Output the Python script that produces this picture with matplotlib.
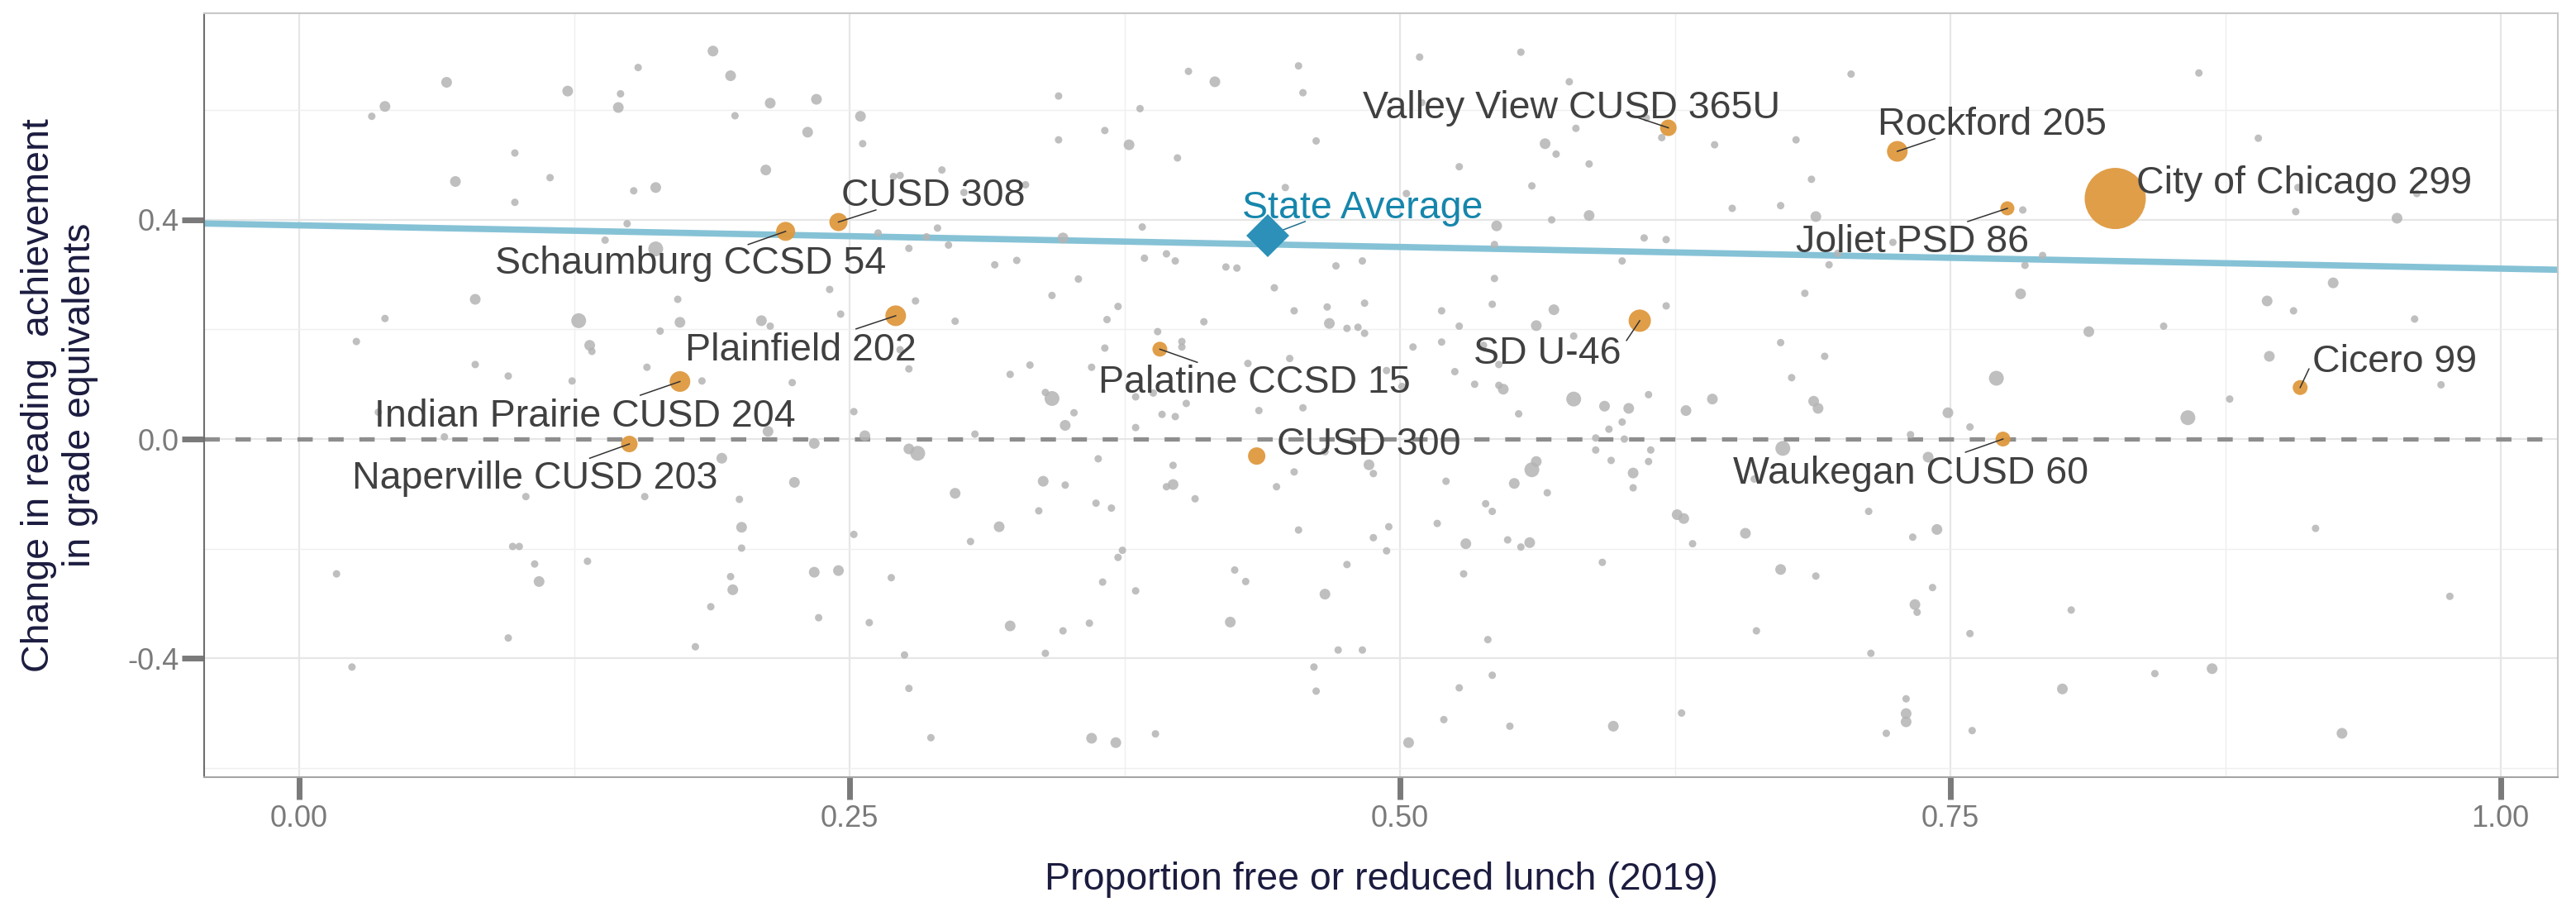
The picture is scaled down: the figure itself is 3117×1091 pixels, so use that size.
import matplotlib
matplotlib.use("Agg")
import matplotlib.pyplot as plt
from matplotlib.ticker import FixedLocator

plt.rcParams["font.family"] = ["Liberation Sans", "DejaVu Sans"]

# ── Data ─────────────────────────────────────────────────────────────────────

# all other districts: proportion FRL, change in GE, size class (1 small .. 3 large)
grey_x = [
    0.067, 0.039, 0.033, 0.122, 0.098, 0.071, 0.114, 0.098, 0.080, 0.039, 0.127, 0.026, 0.132, 0.133,
    0.080, 0.095, 0.124, 0.036, 0.066, 0.103, 0.097, 0.100, 0.017, 0.107, 0.109, 0.131, 0.095, 0.024,
    0.188, 0.154, 0.196, 0.146, 0.145, 0.198, 0.214, 0.235, 0.231, 0.255, 0.256, 0.212, 0.152, 0.162,
    0.270, 0.273, 0.292, 0.302, 0.149, 0.139, 0.162, 0.263, 0.277, 0.290, 0.285, 0.295, 0.241, 0.172,
    0.280, 0.173, 0.164, 0.210, 0.214, 0.246, 0.298, 0.158, 0.183, 0.224, 0.273, 0.277, 0.252, 0.213,
    0.234, 0.257, 0.277, 0.281, 0.307, 0.192, 0.225, 0.157, 0.200, 0.298, 0.201, 0.201, 0.252, 0.305,
    0.196, 0.197, 0.234, 0.245, 0.269, 0.187, 0.236, 0.259, 0.180, 0.275, 0.277, 0.287,
    0.404, 0.416, 0.454, 0.456, 0.345, 0.382, 0.366, 0.345, 0.377, 0.399, 0.462, 0.448, 0.330, 0.383,
    0.347, 0.316, 0.326, 0.384, 0.394, 0.398, 0.421, 0.426, 0.443, 0.471, 0.483, 0.354, 0.342, 0.372,
    0.367, 0.411, 0.452, 0.467, 0.484, 0.468, 0.476, 0.481, 0.484, 0.390, 0.366, 0.332, 0.323, 0.401,
    0.401, 0.431, 0.450, 0.360, 0.342, 0.339, 0.352, 0.348, 0.380, 0.388, 0.392, 0.398, 0.403, 0.436,
    0.456, 0.380, 0.363, 0.338, 0.348, 0.397, 0.397, 0.394, 0.452, 0.444, 0.486, 0.488, 0.466, 0.362,
    0.369, 0.336, 0.318, 0.407, 0.454, 0.488, 0.374, 0.372, 0.365, 0.380, 0.425, 0.430, 0.476, 0.466,
    0.323, 0.347, 0.359, 0.423, 0.339, 0.472, 0.483, 0.461, 0.462, 0.360, 0.371, 0.389,
    0.509, 0.555, 0.577, 0.510, 0.612, 0.619, 0.580, 0.566, 0.571, 0.586, 0.643, 0.527, 0.560, 0.503,
    0.586, 0.569, 0.544, 0.543, 0.611, 0.621, 0.651, 0.601, 0.543, 0.542, 0.519, 0.570, 0.527, 0.562,
    0.621, 0.506, 0.519, 0.579, 0.538, 0.545, 0.525, 0.534, 0.545, 0.547, 0.501, 0.494, 0.579, 0.593,
    0.604, 0.613, 0.630, 0.642, 0.554, 0.595, 0.601, 0.589, 0.602, 0.589, 0.596, 0.614, 0.613, 0.606,
    0.606, 0.562, 0.560, 0.552, 0.567, 0.521, 0.539, 0.542, 0.495, 0.517, 0.494, 0.530, 0.549, 0.559,
    0.555, 0.592, 0.626, 0.629, 0.633, 0.657, 0.529, 0.540, 0.542, 0.527, 0.520, 0.550, 0.597, 0.628,
    0.662, 0.504, 0.661,
    0.705, 0.680, 0.687, 0.673, 0.689, 0.783, 0.724, 0.699, 0.695, 0.792, 0.784, 0.684, 0.782, 0.813,
    0.847, 0.673, 0.693, 0.678, 0.771, 0.688, 0.690, 0.749, 0.759, 0.732, 0.674, 0.740, 0.713, 0.733,
    0.744, 0.673, 0.689, 0.742, 0.734, 0.735, 0.759, 0.805, 0.714, 0.801, 0.843, 0.730, 0.730, 0.730,
    0.721, 0.760,
    0.863, 0.890, 0.908, 0.907, 0.953, 0.962, 0.924, 0.894, 0.906, 0.961, 0.895, 0.973, 0.877, 0.858,
    0.916, 0.977, 0.869, 0.928,
]
grey_y = [
    0.651, 0.607, 0.589, 0.635, 0.522, 0.470, 0.477, 0.432, 0.255, 0.220, 0.216, 0.178, 0.171, 0.160,
    0.136, 0.115, 0.106, 0.049, 0.004, -0.105, -0.196, -0.196, -0.246, -0.228, -0.260, -0.223, -0.363, -0.416,
    0.708, 0.678, 0.663, 0.630, 0.605, 0.590, 0.613, 0.620, 0.560, 0.589, 0.539, 0.491, 0.453, 0.459,
    0.479, 0.481, 0.491, 0.450, 0.393, 0.363, 0.347, 0.376, 0.348, 0.385, 0.369, 0.354, 0.273, 0.255,
    0.252, 0.213, 0.197, 0.216, 0.206, 0.228, 0.215, 0.131, 0.106, 0.103, 0.163, 0.128, 0.050, 0.014,
    -0.008, 0.006, -0.018, -0.026, 0.009, -0.035, -0.079, -0.105, -0.110, -0.099, -0.161, -0.199, -0.174, -0.187,
    -0.251, -0.275, -0.243, -0.240, -0.253, -0.306, -0.326, -0.335, -0.379, -0.394, -0.455, -0.545,
    0.671, 0.652, 0.681, 0.632, 0.626, 0.603, 0.563, 0.546, 0.537, 0.513, 0.544, 0.459, 0.464, 0.387,
    0.367, 0.318, 0.326, 0.330, 0.338, 0.325, 0.314, 0.312, 0.276, 0.316, 0.325, 0.292, 0.262, 0.242,
    0.218, 0.214, 0.234, 0.241, 0.248, 0.211, 0.202, 0.204, 0.193, 0.196, 0.166, 0.135, 0.118, 0.168,
    0.178, 0.138, 0.147, 0.131, 0.074, 0.085, 0.048, 0.025, 0.077, 0.084, 0.045, 0.041, 0.065, 0.052,
    0.057, 0.021, -0.036, -0.077, -0.084, -0.048, -0.083, -0.087, -0.060, -0.087, -0.047, -0.063, -0.023, -0.117,
    -0.126, -0.131, -0.160, -0.109, -0.166, -0.180, -0.203, -0.216, -0.261, -0.277, -0.239, -0.260, -0.229, -0.283,
    -0.341, -0.350, -0.336, -0.334, -0.391, -0.385, -0.385, -0.416, -0.460, -0.546, -0.554, -0.538,
    0.697, 0.706, 0.652, 0.614, 0.586, 0.550, 0.567, 0.539, 0.520, 0.502, 0.537, 0.497, 0.462, 0.448,
    0.408, 0.400, 0.389, 0.355, 0.367, 0.364, 0.421, 0.325, 0.293, 0.246, 0.234, 0.236, 0.206, 0.207,
    0.243, 0.168, 0.177, 0.188, 0.171, 0.136, 0.123, 0.100, 0.098, 0.091, 0.096, 0.125, 0.073, 0.060,
    0.056, 0.081, 0.052, 0.073, 0.046, 0.018, 0.031, 0.002, 0.000, -0.020, -0.039, -0.020, -0.041, -0.062,
    -0.089, -0.041, -0.056, -0.081, -0.098, -0.077, -0.118, -0.132, -0.160, -0.154, -0.204, -0.191, -0.184, -0.189,
    -0.197, -0.225, -0.138, -0.145, -0.191, -0.172, -0.246, -0.366, -0.431, -0.454, -0.512, -0.524, -0.524, -0.500,
    -0.350, -0.554, -0.073,
    0.666, 0.546, 0.474, 0.426, 0.406, 0.418, 0.359, 0.339, 0.318, 0.335, 0.317, 0.266, 0.265, 0.196,
    0.206, 0.176, 0.151, 0.112, 0.111, 0.069, 0.056, 0.048, 0.022, 0.008, -0.017, -0.033, -0.132, -0.179,
    -0.165, -0.238, -0.250, -0.271, -0.302, -0.316, -0.355, -0.312, -0.391, -0.456, -0.428, -0.474, -0.501, -0.516,
    -0.537, -0.532,
    0.668, 0.549, 0.459, 0.415, 0.403, 0.448, 0.285, 0.252, 0.234, 0.219, 0.151, 0.099, 0.073, 0.039,
    -0.163, -0.287, -0.419, -0.537,
]
grey_size = [
    2, 2, 1, 2, 1, 2, 1, 1, 2, 1, 3, 1, 2, 1,
    1, 1, 1, 1, 1, 1, 1, 1, 1, 1, 2, 1, 1, 1,
    2, 1, 2, 1, 2, 1, 2, 2, 2, 2, 1, 2, 1, 2,
    1, 1, 1, 1, 1, 1, 3, 1, 1, 1, 1, 1, 1, 1,
    1, 2, 1, 2, 1, 1, 1, 1, 1, 1, 1, 1, 1, 2,
    2, 2, 2, 3, 1, 2, 2, 1, 1, 2, 2, 1, 1, 1,
    1, 2, 2, 2, 1, 1, 1, 1, 1, 1, 1, 1,
    1, 2, 1, 1, 1, 1, 1, 1, 2, 1, 1, 1, 1, 1,
    2, 1, 1, 1, 1, 1, 1, 1, 1, 1, 1, 1, 1, 1,
    1, 1, 1, 1, 1, 2, 1, 1, 1, 1, 1, 1, 1, 1,
    1, 1, 1, 1, 3, 1, 1, 2, 1, 1, 1, 1, 1, 1,
    1, 1, 1, 2, 1, 1, 2, 1, 1, 1, 2, 1, 1, 1,
    1, 1, 2, 1, 1, 1, 1, 1, 1, 1, 1, 1, 1, 2,
    2, 1, 1, 2, 1, 1, 1, 1, 1, 2, 2, 1,
    1, 1, 1, 1, 1, 1, 1, 2, 1, 1, 1, 1, 1, 1,
    2, 1, 2, 1, 1, 1, 1, 1, 1, 1, 1, 2, 1, 2,
    1, 1, 1, 1, 1, 1, 1, 1, 1, 2, 1, 1, 3, 2,
    2, 1, 2, 2, 1, 1, 1, 1, 1, 1, 1, 1, 1, 2,
    1, 2, 3, 2, 1, 1, 1, 1, 1, 1, 1, 2, 1, 2,
    1, 1, 2, 2, 1, 2, 1, 1, 1, 1, 1, 1, 2, 1,
    1, 2, 1,
    1, 1, 1, 1, 2, 1, 1, 1, 1, 1, 1, 1, 2, 2,
    1, 1, 1, 1, 3, 2, 2, 2, 1, 1, 3, 2, 1, 1,
    2, 2, 1, 1, 2, 1, 1, 1, 1, 2, 1, 1, 2, 2,
    1, 1,
    1, 1, 1, 1, 2, 1, 2, 2, 1, 1, 2, 1, 1, 3,
    1, 1, 2, 2,
]

# highlighted districts
hl_names = [
    "City of Chicago 299", "Valley View CUSD 365U", "Rockford 205", "Joliet PSD 86",
    "CUSD 308", "Schaumburg CCSD 54", "Plainfield 202", "Palatine CCSD 15", "SD U-46",
    "Indian Prairie CUSD 204", "Naperville CUSD 203", "CUSD 300", "Waukegan CUSD 60", "Cicero 99",
]
hl_x = [0.825, 0.622, 0.726, 0.776, 0.245, 0.221, 0.271, 0.391, 0.609, 0.173, 0.150, 0.435, 0.774, 0.909]
hl_y = [0.439, 0.568, 0.525, 0.421, 0.396, 0.379, 0.225, 0.164, 0.216, 0.105, -0.009, -0.031, 0.000, 0.094]

state_avg_x = 0.440
state_avg_y = 0.371

# fitted line
fit_intercept = 0.390
fit_slope = -0.079

# ── Layout / style ───────────────────────────────────────────────────────────

GREY_DOT = {1: 9, 2: 13, 3: 18}  # px diameters per size class
HL_DOT = [74, 20, 25, 17, 22, 23, 25, 18, 27, 25, 20, 21, 18, 18]

# label anchor (centre x, baseline y) and segment end, in data units
LABEL_POS = [
    (0.911, 0.448), (0.578, 0.586), (0.769, 0.555), (0.733, 0.341), (0.288, 0.426),
    (0.178, 0.302), (0.228, 0.143), (0.434, 0.085), (0.567, 0.138), (0.130, 0.023),
    (0.107, -0.091), (0.486, -0.029), (0.732, -0.082), (0.952, 0.122),
]
SEG_END = [
    None, (0.604, 0.592), (0.743, 0.548), (0.758, 0.397), (0.262, 0.418),
    (0.204, 0.355), (0.253, 0.201), (0.408, 0.140), (0.603, 0.180), (0.155, 0.080),
    (0.132, -0.035), None, (0.757, -0.024), (0.913, 0.128),
]

ORANGE = "#DF993F"
GREY = "#b4b4b4"
LINE_BLUE = "#86C2D6"
DIAMOND = "#2C90B8"
SA_TEXT = "#1686AC"
LABEL_COL = "#404040"
TITLE_COL = "#1c1c40"
TICK_COL = "#7a7a7a"


def px_area(d):
    # pixel diameter at dpi 100 -> scatter area in pt^2
    return (d * 0.72) ** 2


fig = plt.figure(figsize=(31.17, 10.91), dpi=100)
ax = fig.add_axes([0.0792, 0.1384, 0.9137, 0.8469])

ax.set_xlim(-0.0432, 1.026)
ax.set_ylim(-0.617, 0.777)

ax.xaxis.set_major_locator(FixedLocator([0, 0.25, 0.5, 0.75, 1.0]))
ax.xaxis.set_minor_locator(FixedLocator([0.125, 0.375, 0.625, 0.875]))
ax.yaxis.set_major_locator(FixedLocator([-0.4, 0.0, 0.4]))
ax.yaxis.set_minor_locator(FixedLocator([-0.6, -0.2, 0.2, 0.6]))
ax.set_xticklabels(["0.00", "0.25", "0.50", "0.75", "1.00"])
ax.set_yticklabels(["-0.4", "0.0", "0.4"])

ax.grid(which="major", color="#e6e6e6", lw=1.6, zorder=0)
ax.grid(which="minor", color="#efefef", lw=1.0, zorder=0)
ax.set_axisbelow(True)

ax.tick_params(which="major", length=19.5, width=5, color=TICK_COL,
               labelsize=26, labelcolor=TICK_COL)
ax.tick_params(axis="x", which="major", pad=4)
ax.tick_params(axis="y", which="major", pad=2)
ax.tick_params(which="minor", length=0)

for side, col in [("left", "#6e6e6e"), ("bottom", "#a5a5a5"),
                  ("top", "#c8c8c8"), ("right", "#c8c8c8")]:
    ax.spines[side].set_color(col)
    ax.spines[side].set_linewidth(1.5)

# reference lines
ax.axhline(0, color="#8e8e8e", lw=3.8, dashes=(3.5, 3.6), zorder=1)
ax.axline((0, fit_intercept), slope=fit_slope, color=LINE_BLUE, lw=5.5, zorder=2)

# all districts
ax.scatter(grey_x, grey_y, s=[px_area(GREY_DOT[c]) for c in grey_size],
           color=GREY, alpha=0.85, linewidths=0, zorder=3)

# highlighted districts
ax.scatter(hl_x, hl_y, s=[px_area(d) for d in HL_DOT],
           color=ORANGE, alpha=0.95, linewidths=0, zorder=4)

for name, px, py, (lx, ly), seg in zip(hl_names, hl_x, hl_y, LABEL_POS, SEG_END):
    if seg is not None:
        ax.plot([seg[0], px], [seg[1], py], color="#333333", lw=1.1, zorder=5)
    ax.text(lx, ly, name, ha="center", va="baseline", fontsize=33.5,
            color=LABEL_COL, zorder=6)

# state average
ax.plot([0.457, state_avg_x], [0.397, state_avg_y], color="#1f6f8c", lw=1.1, zorder=5)
ax.plot(state_avg_x, state_avg_y, marker="D", ms=26, color=DIAMOND,
        markeredgewidth=0, zorder=5)
ax.text(0.483, 0.403, "State Average", ha="center", va="baseline",
        fontsize=33.5, color=SA_TEXT, zorder=6)

# axis titles
fig.text(0.5361, 0.0138, "Proportion free or reduced lunch (2019)",
         ha="center", va="baseline", fontsize=33.5, color=TITLE_COL)
fig.text(0.0231, 0.5619, "Change in reading  achievement\nin grade equivalents",
         rotation=90, ha="center", va="center", multialignment="center",
         fontsize=33.5, color=TITLE_COL, linespacing=1.15)

fig.savefig("out.png", dpi=100)
